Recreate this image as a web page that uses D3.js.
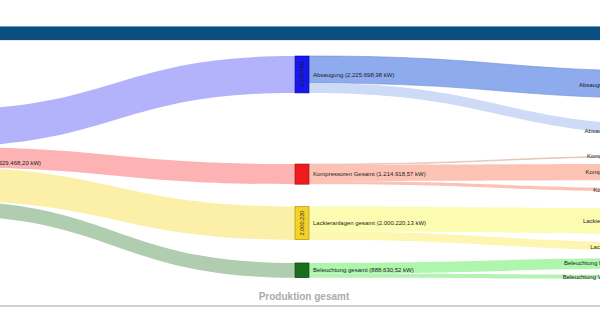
<!DOCTYPE html>
<html>
<head>
<meta charset="utf-8">
<script src="https://cdn.jsdelivr.net/npm/d3@7/dist/d3.min.js"></script>
<style>
  html, body { margin: 0; padding: 0; background: #fff; overflow: hidden; }
  svg { display: block; font-family: "Liberation Sans", Arial, sans-serif; }
</style>
</head>
<body>
<svg id="chart" width="600" height="335"></svg>
<script>
// Energy flow (kW) of the production site, split by consumer group and sub-consumer
const nodeNames = [
  "Produktion gesamt",
  "Absaugung", "Kompressoren Gesamt", "Lackieranlagen gesamt", "Beleuchtung gesamt",
  "Absaugung Lackierei", "Absaugung Trockner",
  "Kompressor Reserve", "Kompressoren Halle", "Kompressor Lack",
  "Lackieranlage Nord", "Lackieranlage Süd",
  "Beleuchtung Fertigungshalle", "Beleuchtung Verwaltungsbau"
];
const nodeColumns = [0, 1, 1, 1, 1, 2, 2, 2, 2, 2, 2, 2, 2, 2];
const linkSources = [0, 0, 0, 0, 1, 1, 2, 2, 2, 3, 3, 4, 4];
const linkTargets = [1, 2, 3, 4, 5, 6, 7, 8, 9, 10, 11, 12, 13];
const linkValues = [
  2225698.98, 1214918.57, 2000220.13, 888630.52,
  1634212.45, 591486.53,
  42315.20, 982604.07, 189999.30,
  1512874.61, 487345.52,
  640512.30, 248118.22
];
const chartTitle = "Produktion gesamt";

// Styling
const nodeFill = ["#6f6fd8", "#1818ee", "#ee1c1c", "#f5d228", "#1b6e1b",
  "#5577cc", "#9fb6e8", "#d98a7a", "#e08f7c", "#d98a7a", "#e0d850", "#e0d850", "#55cc55", "#55cc55"];
const nodeStroke = ["#333388", "#0a0a7a", "#8a1010", "#a88a00", "#0c3a0c",
  "#33448a", "#5570a0", "#8a4a3a", "#8a4a3a", "#8a4a3a", "#8a8a20", "#8a8a20", "#2a7a2a", "#2a7a2a"];
const linkFill = ["#b3b3fc", "#fdb3b3", "#fcefa7", "#b0cdb0",
  "#8eabee", "#cddbf6",
  "#f0cdc4", "#fcc3b4", "#fcc3b4",
  "#fcfcb0", "#fcf6ae",
  "#aef5ae", "#b4f3b4"];
const linkStroke = [null, null, null, null,
  "#6f8cd6", null, "#e2b8ae", null, null, null, null, null, null];

// Layout: column positions, node width and vertical spacing (px before each node in its column)
const columnX = d3.scaleLinear().domain([0, 1, 2]).range([-78, 295, 690]);
const nodeWidth = 14;
const nodeGap = [110, 56, 71.1, 22.3, 23.3, 71.45, 27.55, 19.75, 7.5, 8.25, 16.9, 9.4, 6.66, 6.57];

const W = 600, H = 335;
const svg = d3.select("#chart");

const total = d3.sum(linkValues.filter((v, i) => linkSources[i] === 0));
const hScale = d3.scaleLinear().domain([0, total]).range([0, 105]);

const de = d3.formatLocale({ decimal: ",", thousands: ".", grouping: [3], currency: ["", " €"] });
const fmtKW = de.format(",.2f");
const fmtInt = de.format(",d");

// Build nodes and links
const nodes = nodeNames.map((name, i) => ({ i, name, col: nodeColumns[i], inLinks: [], outLinks: [] }));
const links = linkValues.map((v, i) => ({
  i, value: v, source: nodes[linkSources[i]], target: nodes[linkTargets[i]]
}));
links.forEach(l => { l.source.outLinks.push(l); l.target.inLinks.push(l); });
nodes.forEach(n => {
  n.value = Math.max(d3.sum(n.inLinks, l => l.value), d3.sum(n.outLinks, l => l.value));
  n.x0 = columnX(n.col);
  n.x1 = n.x0 + nodeWidth;
});

// Stack nodes per column
d3.groups(nodes, n => n.col).forEach(([, colNodes]) => {
  let y = 0;
  colNodes.forEach(n => {
    y += nodeGap[n.i];
    n.y0 = y;
    n.y1 = y + hScale(n.value);
    y = n.y1;
  });
});

// Link offsets at both ends
nodes.forEach(n => {
  let y = n.y0;
  n.outLinks.forEach(l => { l.sy0 = y; y += hScale(l.value); l.sy1 = y; });
  y = n.y0;
  n.inLinks.forEach(l => { l.ty0 = y; y += hScale(l.value); l.ty1 = y; });
});

function bandPath(l) {
  const xs = l.source.x1, xt = l.target.x0, xm = (xs + xt) / 2;
  const p = d3.path();
  p.moveTo(xs, l.sy0);
  p.bezierCurveTo(xm, l.sy0, xm, l.ty0, xt, l.ty0);
  p.lineTo(xt, l.ty1);
  p.bezierCurveTo(xm, l.ty1, xm, l.sy1, xs, l.sy1);
  p.closePath();
  return p.toString();
}

// Header bar
svg.append("rect").attr("x", 0).attr("y", 26).attr("width", W).attr("height", 14).attr("fill", "#0c4e80");
svg.append("line").attr("x1", 0).attr("x2", W).attr("y1", 26.5).attr("y2", 26.5).attr("stroke", "#5e9fd2").attr("stroke-width", 1);
svg.append("line").attr("x1", 0).attr("x2", W).attr("y1", 40.5).attr("y2", 40.5).attr("stroke", "#e6e6e2").attr("stroke-width", 1);

const g = svg.append("g");

// Links
g.append("g").selectAll("path").data(links).join("path")
  .attr("d", bandPath)
  .attr("fill", d => linkFill[d.i])
  .attr("stroke", d => linkStroke[d.i] || "none")
  .attr("stroke-width", 0.6);

// Nodes
g.append("g").selectAll("rect").data(nodes).join("rect")
  .attr("x", d => d.x0).attr("y", d => d.y0)
  .attr("width", nodeWidth).attr("height", d => d.y1 - d.y0)
  .attr("fill", d => nodeFill[d.i])
  .attr("stroke", d => nodeStroke[d.i])
  .attr("stroke-width", 0.6);

// Value written vertically inside nodes that are tall enough
g.append("g").selectAll("text")
  .data(nodes.filter(n => n.col === 1 && (n.y1 - n.y0) > 28))
  .join("text")
  .attr("transform", d => `translate(${(d.x0 + d.x1) / 2},${(d.y0 + d.y1) / 2}) rotate(-90)`)
  .attr("text-anchor", "middle")
  .attr("dy", "0.35em")
  .attr("font-size", 5.6)
  .attr("fill", "#1a1a2a")
  .text(d => fmtInt(Math.floor(d.value)));

// Node labels
g.append("g").selectAll("text").data(nodes).join("text")
  .attr("x", d => d.col === 2 ? d.x0 - 4 : d.x1 + 4)
  .attr("y", d => (d.y0 + d.y1) / 2)
  .attr("dy", "0.35em")
  .attr("text-anchor", d => d.col === 2 ? "end" : "start")
  .attr("font-size", 6)
  .attr("fill", "#1c1c1c")
  .text(d => `${d.name} (${fmtKW(d.value)} kW)`);

// Title and bottom rule
svg.append("text")
  .attr("x", 304).attr("y", 300)
  .attr("text-anchor", "middle")
  .attr("font-size", 10).attr("font-weight", "bold")
  .attr("fill", "#ababab")
  .text(chartTitle);
svg.append("line").attr("x1", 0).attr("x2", W).attr("y1", 306).attr("y2", 306)
  .attr("stroke", "#cdd1cd").attr("stroke-width", 2);
</script>
</body>
</html>
